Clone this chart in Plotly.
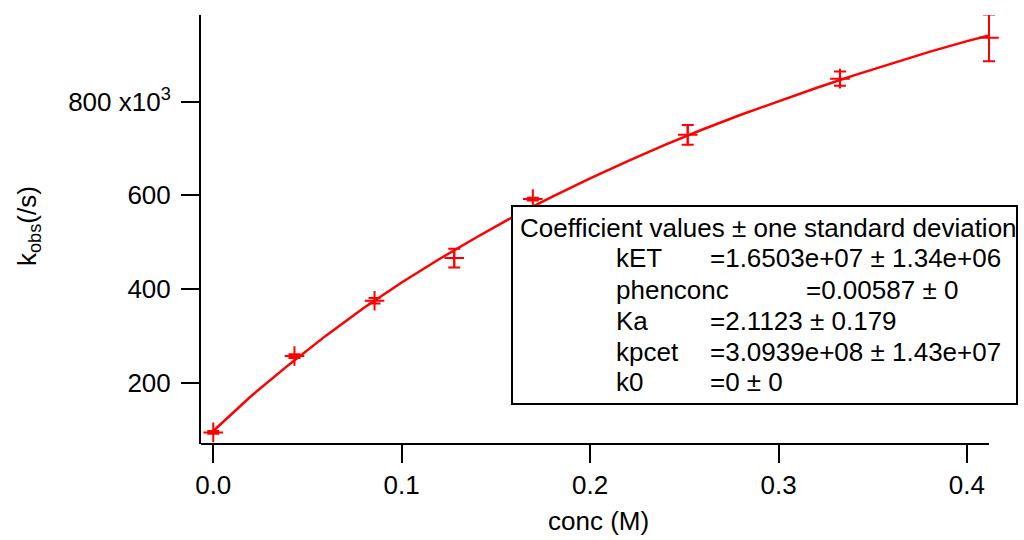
import plotly.graph_objects as go

# ---- data (k_obs in units of 1e3 /s) ----
conc = [0.0, 0.0431, 0.0856, 0.1279, 0.1696, 0.2518, 0.3326, 0.4117]
kobs = [94, 257, 375, 466, 592, 729, 849, 936]
kobs_err = [3, 4, 6, 20, 3, 21, 15, 50]

fit_conc = [0.0, 0.02, 0.04, 0.06, 0.08, 0.10, 0.12, 0.14, 0.16, 0.18, 0.20,
            0.22, 0.24, 0.26, 0.28, 0.30, 0.32, 0.34, 0.36, 0.38, 0.40, 0.4117]
fit_kobs = [97, 171, 238, 301, 360, 414, 464, 511, 556, 597, 636,
            673, 708, 741, 772, 801, 829, 856, 881, 906, 929, 941]

x_ticks = [0.0, 0.1, 0.2, 0.3, 0.4]
x_ticktext = ["0.0", "0.1", "0.2", "0.3", "0.4"]
y_ticks = [200, 400, 600, 800]
y_ticktext = ["200", "400", "600", "800 x10<sup>3</sup>"]

box_title = "Coefficient values ± one standard deviation"
coef_names = ["kET", "phenconc", "Ka", "kpcet", "k0"]
coef_values = ["=1.6503e+07 ± 1.34e+06", "=0.00587 ± 0", "=2.1123 ± 0.179",
               "=3.0939e+08 ± 1.43e+07", "=0 ± 0"]

RED = "#ff0000"
FONT = "Arial, Liberation Sans, sans-serif"
FS = 26

# plot area in pixels (right edge widened so the last error bar is not clipped)
L, R, T, B = 201, 999, 15, 444
W, H = 1024, 540
X0, X1_AXIS = -0.0065, 0.4117
PX_PER_UNIT = (989 - 201) / (X1_AXIS - X0)
X1 = X1_AXIS + (R - 989) / PX_PER_UNIT


def px(x):
    return (x - L) / (R - L)


def py(y):
    return (B - y) / (B - T)


fig = go.Figure()
fig.add_trace(go.Scatter(x=fit_conc, y=fit_kobs, mode="lines",
                         line=dict(color=RED, width=2.5), hoverinfo="skip",
                         showlegend=False))
fig.add_trace(go.Scatter(x=conc, y=kobs, mode="markers",
                         marker=dict(symbol="cross-thin", size=14,
                                     line=dict(color=RED, width=2), color=RED),
                         error_y=dict(type="data", array=kobs_err, visible=True,
                                      color=RED, thickness=2, width=6),
                         showlegend=False))

axis_common = dict(ticks="outside", ticklen=18, tickwidth=2, tickcolor="black",
                   showgrid=False, zeroline=False, mirror=False,
                   tickfont=dict(family=FONT, size=FS, color="black"))

fig.update_xaxes(range=[X0, X1], tickvals=x_ticks, ticktext=x_ticktext,
                 showline=False, **axis_common)
fig.update_yaxes(range=[69.2, 984.8], tickvals=y_ticks, ticktext=y_ticktext,
                 showline=True, linecolor="black", linewidth=2,
                 ticklabelstandoff=5, **axis_common)

shapes = [
    # bottom axis line ending at the last data point
    dict(type="line", xref="x", yref="paper", x0=X0, x1=X1_AXIS, y0=0, y1=0,
         line=dict(color="black", width=2), layer="above"),
    dict(type="rect", xref="paper", yref="paper",
         x0=px(512), x1=px(1017), y0=py(404), y1=py(206),
         line=dict(color="black", width=2), fillcolor="white",
         layer="above"),
]

ann = []
ann.append(dict(x=px(518), y=py(228), xref="paper", yref="paper",
                text=box_title, showarrow=False, xanchor="left", yanchor="middle",
                font=dict(family=FONT, size=FS, color="black")))
row_y = [258, 290, 321, 352, 382]
val_x = [708, 804, 708, 708, 708]
for i, (n, v) in enumerate(zip(coef_names, coef_values)):
    ann.append(dict(x=px(614), y=py(row_y[i]), xref="paper", yref="paper",
                    text=n, showarrow=False, xanchor="left", yanchor="middle",
                    font=dict(family=FONT, size=FS, color="black")))
    ann.append(dict(x=px(val_x[i]), y=py(row_y[i]), xref="paper", yref="paper",
                    text=v, showarrow=False, xanchor="left", yanchor="middle",
                    font=dict(family=FONT, size=FS, color="black")))

# axis titles
ann.append(dict(x=px(598), y=py(521), xref="paper", yref="paper",
                text="conc (M)", showarrow=False, xanchor="center", yanchor="middle",
                font=dict(family=FONT, size=FS, color="black")))
ann.append(dict(x=px(28), y=py(226), xref="paper", yref="paper",
                text="k<sub>obs</sub>(/s)", showarrow=False, textangle=-90,
                xanchor="center", yanchor="middle",
                font=dict(family=FONT, size=FS, color="black")))

fig.update_layout(width=W, height=H,
                  margin=dict(l=L, r=W - R, t=T, b=H - B, autoexpand=False),
                  paper_bgcolor="white", plot_bgcolor="white",
                  shapes=shapes, annotations=ann, showlegend=False)

fig.write_html("out.html")
